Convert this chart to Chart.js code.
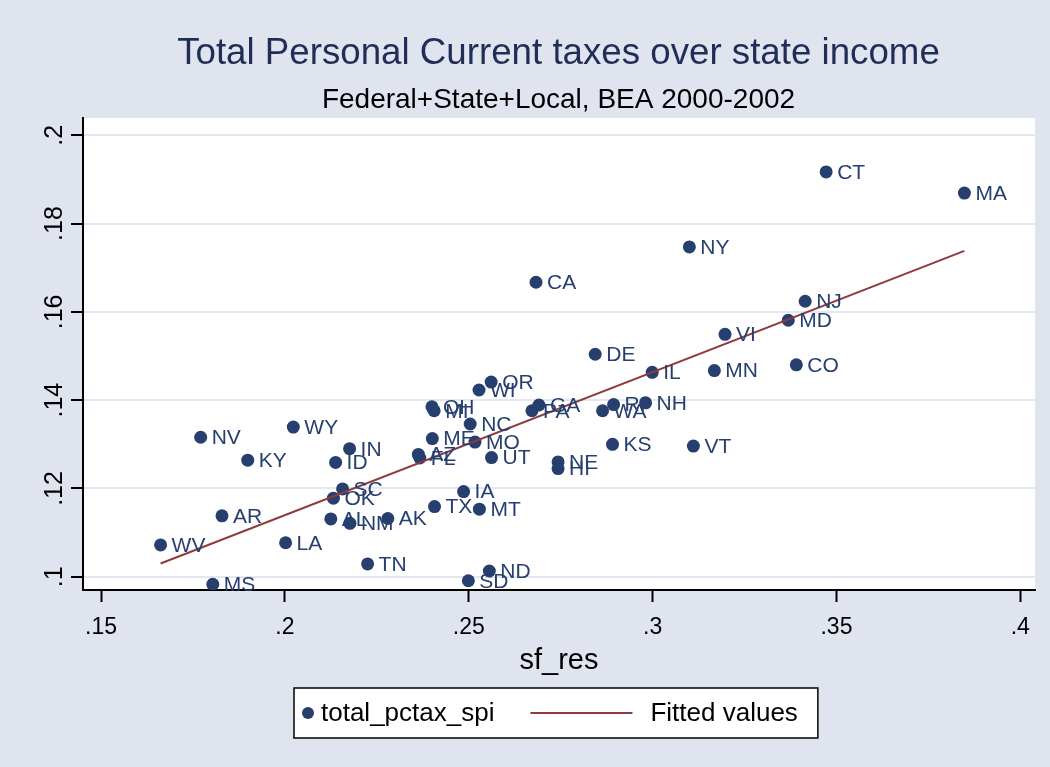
<!DOCTYPE html>
<html>
<head>
<meta charset="utf-8">
<title>Total Personal Current taxes over state income</title>
<script src="https://cdn.jsdelivr.net/npm/chart.js@4.4.1/dist/chart.umd.min.js"></script>
<style>
  html, body { margin: 0; padding: 0; background: #dfe4ee; }
  canvas { display: block; }
</style>
</head>
<body>
<canvas id="taxes" width="1050" height="767"></canvas>
<script>
// data ------------------------------------------------------------------------------------
const states = ['CT','MA','NY','CA','NJ','MD','VI','DE','CO','MN','IL','OR','WI','OH','MI','NC','ME','MO','AZ','FL',
  'UT','IN','ID','WY','SC','OK','AL','NM','AK','TX','IA','MT','LA','NV','KY','AR','WV','MS','TN','SD',
  'ND','PA','GA','WA','RI','NH','KS','VT','NE','HI'];
const sfRes = [0.3472,0.3848,0.3100,0.2683,0.3415,0.3369,0.3197,0.2844,0.3391,0.3168,0.2999,0.2561,0.2528,0.2400,0.2406,0.2504,0.2401,0.2517,0.2363,0.2367,
  0.2562,0.2176,0.2138,0.2023,0.2157,0.2132,0.2125,0.2177,0.2280,0.2407,0.2486,0.2529,0.2002,0.1771,0.1899,0.1829,0.1662,0.1804,0.2225,0.2499,
  0.2556,0.2672,0.2691,0.2864,0.2894,0.2981,0.2891,0.3111,0.2743,0.2743];
const totalPctax = [0.1917,0.1869,0.1747,0.1667,0.1624,0.1581,0.1549,0.1504,0.1480,0.1467,0.1463,0.1441,0.1423,0.1385,0.1376,0.1346,0.1313,0.1305,0.1277,0.1269,
  0.1270,0.1290,0.1259,0.1339,0.1199,0.1178,0.1131,0.1121,0.1132,0.1159,0.1193,0.1153,0.1077,0.1316,0.1264,0.1138,0.1072,0.0983,0.1029,0.0991,
  0.1013,0.1376,0.1389,0.1376,0.1390,0.1394,0.1300,0.1296,0.1260,0.1245];
// fitted line end points
const fitX = [0.1662, 0.3848];
const fitY = [0.1030, 0.1738];
// tick labels
const xTicks = [0.15, 0.2, 0.25, 0.3, 0.35, 0.4];
const yTicks = [0.1, 0.12, 0.14, 0.16, 0.18, 0.2];

const NAVY = '#263f6e';
const MAROON = '#8f3a3d';
const FONT = "'Liberation Sans', Arial, sans-serif";

const stataNum = v => String(+v.toFixed(4)).replace(/^0\./, '.');

// plugins ---------------------------------------------------------------------------------
const backdrop = {
  id: 'backdrop',
  beforeDraw(chart) {
    const {ctx, chartArea: a} = chart;
    ctx.save();
    ctx.fillStyle = '#dfe4ee';
    ctx.fillRect(0, 0, chart.width, chart.height);
    ctx.fillStyle = '#ffffff';
    ctx.fillRect(a.left, a.top, a.right - a.left, a.bottom - a.top);
    ctx.restore();
  }
};

const stateLabels = {
  id: 'stateLabels',
  afterDatasetsDraw(chart) {
    const ctx = chart.ctx;
    const meta = chart.getDatasetMeta(1);
    ctx.save();
    ctx.font = '21px ' + FONT;
    ctx.fillStyle = NAVY;
    ctx.textBaseline = 'middle';
    meta.data.forEach((pt, i) => {
      ctx.fillText(states[i], pt.x + 11, pt.y + 1);
    });
    ctx.restore();
  }
};

// y tick labels, turned like stata draws them
const yLabels = {
  id: 'yLabels',
  afterDraw(chart) {
    const ctx = chart.ctx;
    const y = chart.scales.y;
    ctx.save();
    ctx.font = '25px ' + FONT;
    ctx.fillStyle = '#000';
    ctx.textAlign = 'center';
    ctx.textBaseline = 'middle';
    yTicks.forEach(v => {
      ctx.save();
      ctx.translate(y.right - 28, y.getPixelForValue(v));
      ctx.rotate(-Math.PI / 2);
      ctx.fillText(stataNum(v), 0, 0);
      ctx.restore();
    });
    ctx.restore();
  }
};

// boxed legend under the axis title
const boxLegend = {
  id: 'boxLegend',
  afterDraw(chart) {
    const ctx = chart.ctx;
    const a = chart.chartArea;
    const sets = chart.data.datasets;
    ctx.save();
    ctx.font = '26px ' + FONT;
    const w1 = ctx.measureText(sets[1].label).width;
    const w2 = ctx.measureText(sets[0].label).width;
    const total = 14 + 13 + w1 + 36 + 102 + 18 + w2 + 20;
    const left = Math.round((a.left + a.right) / 2 - total / 2) - 3;
    const top = 688, h = 50, cy = top + h / 2;
    ctx.fillStyle = '#fff';
    ctx.fillRect(left, top, total, h);
    ctx.strokeStyle = '#000';
    ctx.lineWidth = 1.5;
    ctx.strokeRect(left, top, total, h);
    ctx.fillStyle = NAVY;
    ctx.beginPath();
    ctx.arc(left + 14, cy, 6, 0, Math.PI * 2);
    ctx.fill();
    ctx.fillStyle = '#000';
    ctx.textBaseline = 'middle';
    ctx.fillText(sets[1].label, left + 27, cy + 1);
    let x = left + 27 + w1 + 36;
    ctx.strokeStyle = MAROON;
    ctx.lineWidth = 2;
    ctx.beginPath();
    ctx.moveTo(x, cy);
    ctx.lineTo(x + 102, cy);
    ctx.stroke();
    ctx.fillText(sets[0].label, x + 102 + 18, cy + 1);
    ctx.restore();
  }
};

// chart -----------------------------------------------------------------------------------
const points = sfRes.map((x, i) => ({x: x, y: totalPctax[i]}));
const fitted = fitX.map((x, i) => ({x: x, y: fitY[i]}));

new Chart(document.getElementById('taxes'), {
  type: 'scatter',
  data: {
    datasets: [
      {
        type: 'line',
        label: 'Fitted values',
        data: fitted,
        borderColor: MAROON,
        borderWidth: 2,
        pointRadius: 0,
        fill: false,
        order: 0
      },
      {
        label: 'total_pctax_spi',
        data: points,
        backgroundColor: NAVY,
        borderWidth: 0,
        pointRadius: 6.5,
        pointHoverRadius: 6.5,
        order: 1
      }
    ]
  },
  options: {
    responsive: false,
    animation: false,
    // left padding keeps the titles centred over the plot, like stata
    layout: { padding: { left: 82, right: 15, top: 0, bottom: 89 } },
    scales: {
      x: {
        type: 'linear',
        min: 0.1451,
        max: 0.404,
        afterBuildTicks: s => { s.ticks = xTicks.map(v => ({value: v})); },
        afterFit: s => { s.height = 88; },
        ticks: {
          padding: 12,
          color: '#000',
          font: { size: 23, family: FONT },
          maxRotation: 0,
          callback: v => stataNum(v)
        },
        grid: { drawOnChartArea: false, drawTicks: true, tickLength: 12, tickColor: '#000', tickWidth: 2 },
        border: { display: true, color: '#000', width: 2 },
        title: { display: true, text: 'sf_res', color: '#000', font: { size: 29, family: FONT }, padding: { top: 2, bottom: 0 } }
      },
      y: {
        type: 'linear',
        min: 0.097,
        max: 0.2039,
        afterBuildTicks: s => { s.ticks = yTicks.map(v => ({value: v})); },
        afterFit: s => { s.width = 1; },
        ticks: { display: false },
        grid: { color: '#e2e7f0', lineWidth: 2, drawTicks: true, tickLength: 12, tickColor: '#000', tickWidth: 2 },
        border: { display: true, color: '#000', width: 2 }
      }
    },
    plugins: {
      legend: { display: false },
      tooltip: { enabled: false },
      title: {
        display: true,
        text: 'Total Personal Current taxes over state income',
        color: '#1f2d57',
        font: { size: 36.7, weight: 'normal', family: FONT },
        padding: { top: 32, bottom: 5.8 }
      },
      subtitle: {
        display: true,
        text: 'Federal+State+Local, BEA 2000-2002',
        color: '#000',
        font: { size: 28, weight: 'normal', family: FONT },
        padding: { top: 1.4, bottom: 1.2 }
      }
    }
  },
  plugins: [backdrop, stateLabels, yLabels, boxLegend]
});
</script>
</body>
</html>
